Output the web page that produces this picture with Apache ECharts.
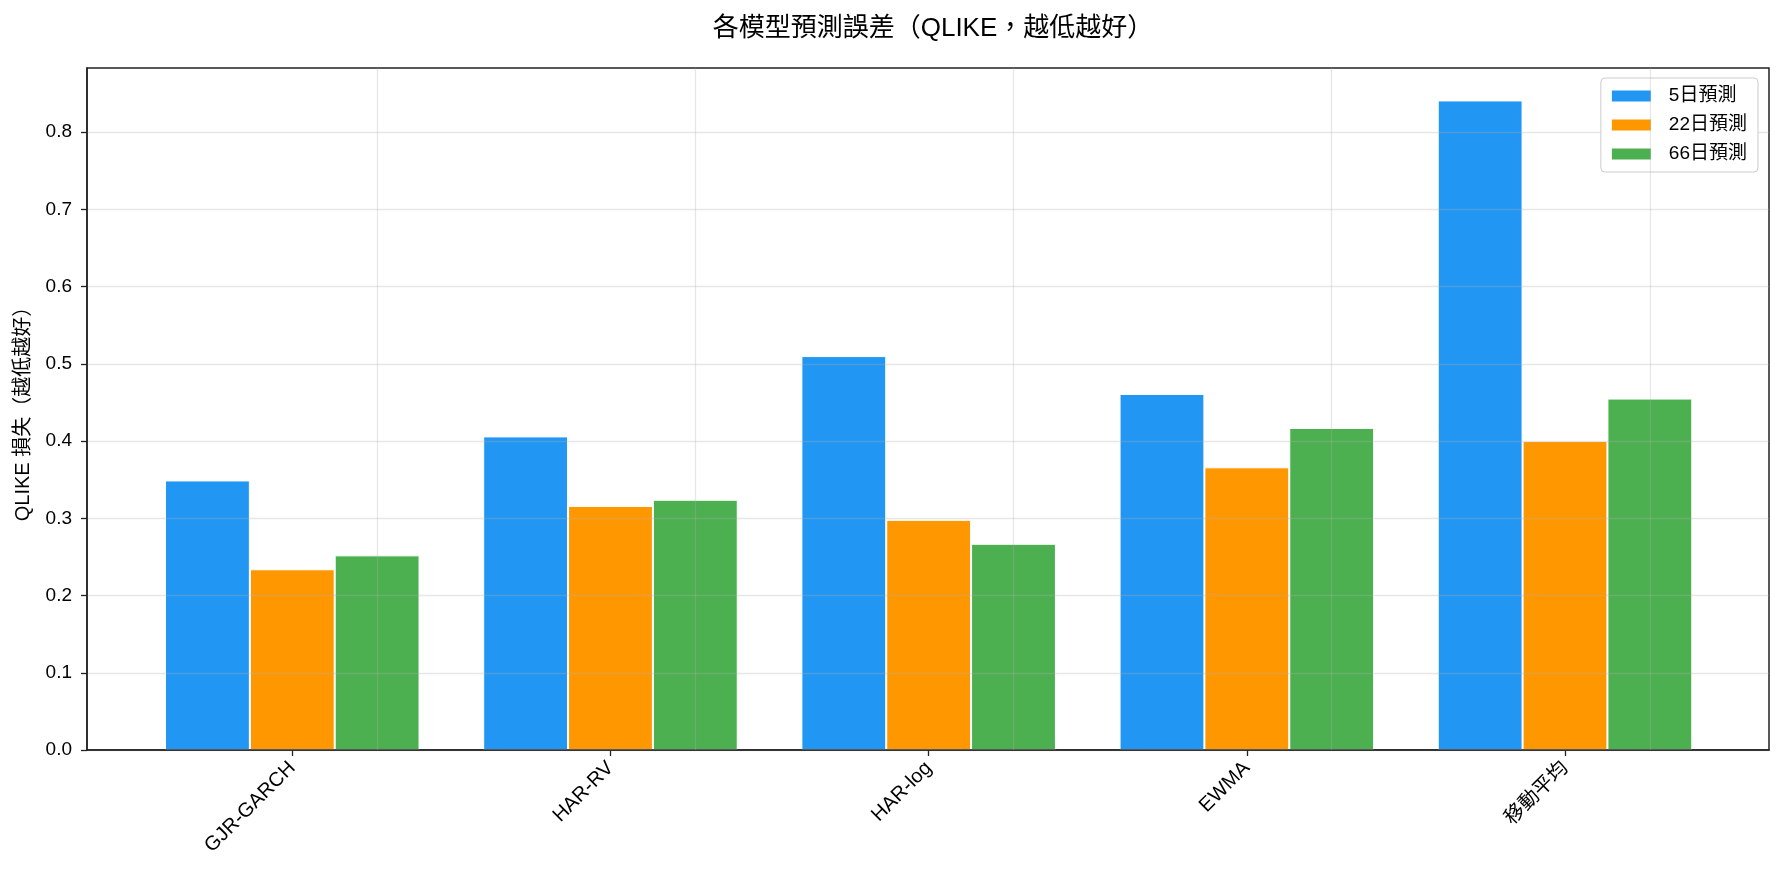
<!DOCTYPE html>
<html>
<head>
<meta charset="utf-8">
<script src="https://cdn.jsdelivr.net/npm/echarts@6/dist/echarts.min.js"></script>
<style>
html,body{margin:0;padding:0;background:#fff;}
#chart{width:1783px;height:883px;}
</style>
</head>
<body>
<div id="chart"></div>
<script>
const categories = ['GJR-GARCH', 'HAR-RV', 'HAR-log', 'EWMA', '移動平均'];
const seriesNames = ['5日預測', '22日預測', '66日預測'];
const values5 = [0.349, 0.406, 0.510, 0.461, 0.841];
const values22 = [0.234, 0.316, 0.298, 0.366, 0.400];
const values66 = [0.252, 0.324, 0.267, 0.417, 0.455];
const colors = ['#2196F3', '#FF9800', '#4CAF50'];
const yTicks = [0, 0.1, 0.2, 0.3, 0.4, 0.5, 0.6, 0.7, 0.8];

const FONT = '"Liberation Sans", "Noto Sans CJK TC", sans-serif';
const chart = echarts.init(document.getElementById('chart'));
const yMax = 0.883;
const gridColor = 'rgba(176,176,176,0.3)';

const allValues = [values5, values22, values66];
const barSeries = allValues.map((vals, i) => ({
  name: seriesNames[i],
  type: 'bar',
  xAxisIndex: 1,
  yAxisIndex: 1,
  data: vals,
  barGap: '0%',
  barCategoryGap: '20%',
  itemStyle: { color: colors[i], borderColor: '#ffffff', borderWidth: 1 },
  emphasis: { disabled: true },
  silent: true
}));
barSeries[2].markLine = {
  silent: true,
  symbol: 'none',
  z: 5,
  label: { show: false },
  lineStyle: { color: gridColor, type: 'solid', width: 1.3 },
  data: categories.map(c => ({ xAxis: c }))
};

chart.setOption({
  animation: false,
  backgroundColor: '#ffffff',
  textStyle: { fontFamily: FONT },
  color: colors,
  title: {
    text: '各模型預測誤差（QLIKE，越低越好）',
    left: 928,
    textAlign: 'center',
    top: 11,
    textStyle: { fontFamily: FONT, fontSize: 26, fontWeight: 'normal', color: '#000' }
  },
  legend: {
    data: seriesNames,
    orient: 'vertical',
    right: 25,
    top: 78,
    itemWidth: 41,
    itemHeight: 13,
    itemGap: 9,
    padding: [8, 11, 8, 9],
    backgroundColor: '#ffffff',
    borderColor: '#cccccc',
    borderWidth: 1,
    borderRadius: 4,
    icon: 'rect',
    textStyle: { fontFamily: FONT, fontSize: 19, color: '#000', lineHeight: 20, padding: [0, 0, 0, 12] }
  },
  grid: [
    { left: 87, right: 14, top: 68, bottom: 133, show: true, borderColor: '#222', borderWidth: 1.5, backgroundColor: 'transparent' },
    { left: 133.2, right: 58.9, top: 68, bottom: 133 }
  ],
  xAxis: [
    {
      type: 'value', gridIndex: 0, min: 0, max: 1, z: 3,
      axisLine: { show: true, onZero: false, lineStyle: { color: '#222', width: 1.5 } },
      axisTick: { show: false }, axisLabel: { show: false }, splitLine: { show: false }
    },
    {
      type: 'category', gridIndex: 1, data: categories, boundaryGap: true,
      axisLine: { show: false },
      axisTick: { show: true, alignWithLabel: true, length: 6, lineStyle: { color: '#222', width: 1.3 } },
      axisLabel: { rotate: 45, margin: 15, fontSize: 20, color: '#000', fontFamily: FONT, interval: 0 },
      splitLine: { show: false }
    }
  ],
  yAxis: [
    {
      type: 'value', gridIndex: 0, min: 0, max: yMax, interval: 0.1, z: 3,
      name: 'QLIKE 損失（越低越好）',
      nameLocation: 'middle', nameRotate: 90, nameGap: 54,
      nameTextStyle: { fontFamily: FONT, fontSize: 20, color: '#000' },
      axisLine: { show: true, lineStyle: { color: '#222', width: 1.5 } },
      axisTick: { show: true, length: 6, customValues: yTicks, lineStyle: { color: '#222', width: 1.3 } },
      axisLabel: {
        margin: 15, fontSize: 19, color: '#000', fontFamily: FONT,
        customValues: yTicks,
        formatter: v => v.toFixed(1)
      },
      splitLine: { show: true, lineStyle: { color: gridColor, width: 1.3 } }
    },
    {
      type: 'value', gridIndex: 1, min: 0, max: yMax, interval: 0.1, show: false,
      splitLine: { show: false }
    }
  ],
  series: barSeries
});
</script>
</body>
</html>
